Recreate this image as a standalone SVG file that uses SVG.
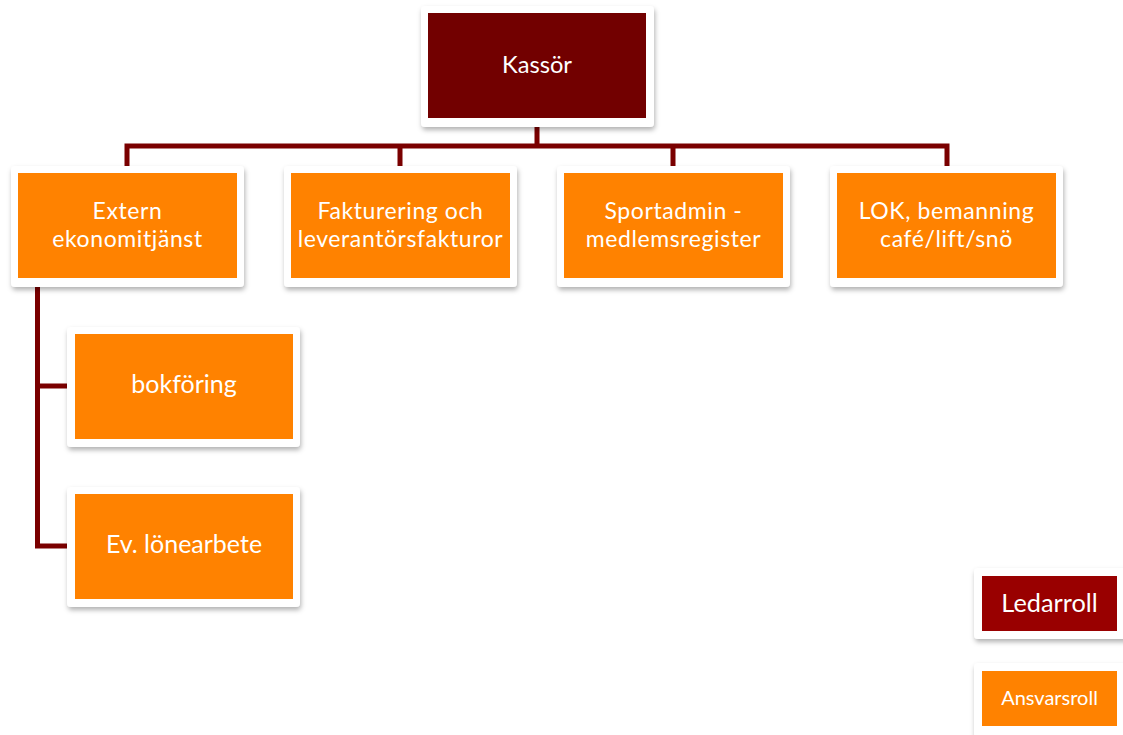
<svg xmlns="http://www.w3.org/2000/svg" width="1123" height="735" viewBox="0 0 1123 735">
<defs>
<filter id="sh" x="-10%" y="-10%" width="125%" height="130%">
<feDropShadow dx="1" dy="3" stdDeviation="2.5" flood-color="#000" flood-opacity="0.3"/>
</filter>
<style>
.frame{fill:#fff;filter:url(#sh)}
.lead{fill:#720000}
.resp{fill:#FF8200}
.legl{fill:#990000}
.t{font-family:Lato,"Open Sans","Liberation Sans",sans-serif;fill:#fff;text-anchor:middle}
.t2{font-size:23px;letter-spacing:0.6px}
.c{fill:none;stroke:#7A0000;stroke-width:5;stroke-linejoin:miter}
</style>
</defs>
<rect width="1123" height="735" fill="#fff"/>
<g id="connectors">
<path class="c" d="M537,127 V146 M127,166 V146 H947 V166 M400,146 V166 M673,146 V166"/>
<path class="c" d="M37.5,287 V546 H67 M37.5,386 H67"/>
</g>
<g id="kassor">
<rect class="frame" x="421" y="6" width="233" height="121" rx="4"/>
<rect class="lead" x="428" y="13" width="218" height="105"/>
<text class="t" x="537" y="73" font-size="23.7">Kassör</text>
</g>
<g id="extern">
<rect class="frame" x="11" y="166" width="233" height="121" rx="4"/>
<rect class="resp" x="18" y="173" width="219" height="105"/>
<text class="t t2"><tspan x="127.5" y="219">Extern</tspan><tspan x="127.5" y="247">ekonomitjänst</tspan></text>
</g>
<g id="fakturering">
<rect class="frame" x="284" y="166" width="233" height="121" rx="4"/>
<rect class="resp" x="291" y="173" width="219" height="105"/>
<text class="t t2"><tspan x="400.5" y="219">Fakturering och</tspan><tspan x="400.5" y="247">leverantörsfakturor</tspan></text>
</g>
<g id="sportadmin">
<rect class="frame" x="557" y="166" width="233" height="121" rx="4"/>
<rect class="resp" x="564" y="173" width="219" height="105"/>
<text class="t t2"><tspan x="673.5" y="219">Sportadmin -</tspan><tspan x="673.5" y="247">medlemsregister</tspan></text>
</g>
<g id="lok">
<rect class="frame" x="830" y="166" width="233" height="121" rx="4"/>
<rect class="resp" x="837" y="173" width="219" height="105"/>
<text class="t t2"><tspan x="946.5" y="219">LOK, bemanning</tspan><tspan x="946.5" y="247">café/lift/snö</tspan></text>
</g>
<g id="bokforing">
<rect class="frame" x="67" y="327" width="233" height="120" rx="4"/>
<rect class="resp" x="75" y="334" width="218" height="105"/>
<text class="t" x="184" y="393" font-size="25">bokföring</text>
</g>
<g id="lonearbete">
<rect class="frame" x="67" y="487" width="233" height="120" rx="4"/>
<rect class="resp" x="75" y="494" width="218" height="105"/>
<text class="t" x="184" y="553" font-size="25">Ev. lönearbete</text>
</g>
<g id="legend-ledarroll">
<rect class="frame" x="974" y="568" width="155" height="71" rx="4"/>
<rect class="legl" x="982" y="576" width="135" height="55"/>
<text class="t" x="1049.5" y="612" font-size="25.3">Ledarroll</text>
</g>
<g id="legend-ansvarsroll">
<rect class="frame" x="974" y="663" width="155" height="75" rx="4"/>
<rect class="resp" x="982" y="671" width="135" height="55"/>
<text class="t" x="1049.5" y="705" font-size="20">Ansvarsroll</text>
</g>
</svg>
